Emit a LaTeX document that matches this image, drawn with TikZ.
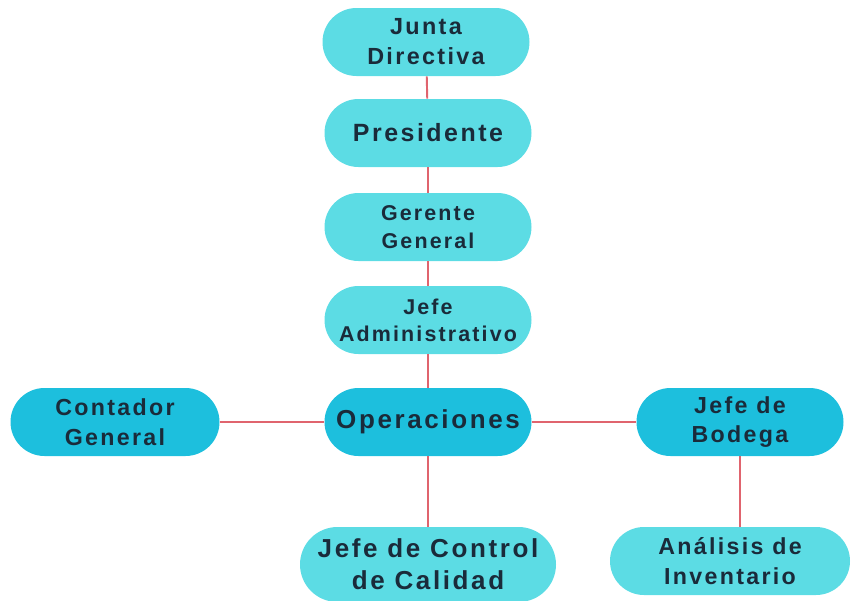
\documentclass[tikz,border=0pt]{standalone}
\usepackage{fontspec}
\setmainfont{Liberation Sans}[LetterSpace=10]
\usepackage{xcolor}
\usetikzlibrary{positioning}
\definecolor{lightcyan}{HTML}{5CDCE4}
\definecolor{darkcyan}{HTML}{1DBFDD}
\definecolor{textnavy}{HTML}{1A2B3A}
\definecolor{linkred}{HTML}{E0646E}
\newcommand{\fsz}[2]{\fontsize{#1}{#2}\selectfont}

\begin{document}
\begin{tikzpicture}[
  box/.style={rounded corners=0.68cm, minimum width=4.14cm, minimum height=1.36cm,
    align=center, inner sep=0pt, text=textnavy, font=\bfseries},
  light/.style={box, fill=lightcyan},
  dark/.style={box, fill=darkcyan},
  link/.style={draw=linkred, line width=1.1pt}]
  \useasboundingbox (0,0) rectangle (17.02,-12);
  \clip (0,0) rectangle (17.02,-12);
  % top chain
  \node[light, font=\bfseries\fsz{13.3pt}{17pt}] (junta) at (8.52,-0.84) {Junta\\Directiva};
  \node[light, font=\bfseries\fsz{14.2pt}{18pt}] (presidente) at (8.56,-2.66) {Presidente};
  \node[light, font=\bfseries\fsz{12.2pt}{15.5pt}] (gerente) at (8.56,-4.54) {Gerente\\General};
  \node[light, font=\bfseries\fsz{12.2pt}{15.5pt}] (admin) at (8.56,-6.40) {Jefe\\Administrativo};
  % middle row
  \node[dark, font=\bfseries\fsz{14.8pt}{19pt}] (operaciones) at (8.56,-8.44) {Operaciones};
  \node[dark, font=\bfseries\fsz{13.2pt}{17pt}, minimum width=4.18cm] (contador) at (2.30,-8.44) {Contador\\General};
  \node[dark, font=\bfseries\fsz{13.2pt}{17pt}] (bodega) at (14.80,-8.44) {Jefe de\\Bodega};
  % bottom row
  \node[light, font=\bfseries\fsz{14.8pt}{18pt}, minimum width=5.12cm, minimum height=1.5cm,
    rounded corners=0.75cm] (control) at (8.56,-11.29) {Jefe de Control\\de Calidad};
  \node[light, font=\bfseries\fsz{13.2pt}{17pt}, minimum width=4.8cm] (analisis) at (14.60,-11.22) {Análisis de\\Inventario};
  % connectors
  \draw[link] (junta) -- (presidente);
  \draw[link] (presidente) -- (gerente);
  \draw[link] (gerente) -- (admin);
  \draw[link] (admin) -- (operaciones);
  \draw[link] (operaciones) -- (contador);
  \draw[link] (operaciones) -- (bodega);
  \draw[link] (operaciones) -- (control);
  \draw[link] (bodega.south) -- (bodega.south |- analisis.north);
\end{tikzpicture}
\end{document}
